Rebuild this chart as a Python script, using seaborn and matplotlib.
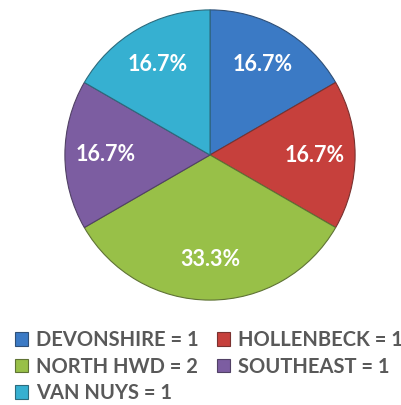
import matplotlib
matplotlib.use("Agg")
import matplotlib.pyplot as plt
from matplotlib.patches import Patch
import seaborn as sns

categories = ["DEVONSHIRE", "HOLLENBECK", "NORTH HWD", "SOUTHEAST", "VAN NUYS"]
counts = [1, 1, 2, 1, 1]
colors = ["#3B7AC5", "#C6403C", "#98C048", "#7C5DA1", "#36B0D1"]

sns.set_style("white")
plt.rcParams["font.family"] = ["Lato", "DejaVu Sans"]

fig = plt.figure(figsize=(4.02, 4.05), dpi=100)
ax = fig.add_axes([62 / 402, (405 - 303) / 405, 296 / 402, 296 / 405])

wedges, texts, autotexts = ax.pie(
    counts,
    colors=sns.color_palette(colors),
    startangle=90,
    counterclock=False,
    radius=1.0,
    autopct="%1.1f%%",
    pctdistance=0.72,
    wedgeprops=dict(linewidth=0.8, edgecolor="#3a3a3a"),
    textprops=dict(color="white", fontsize=15.5, fontweight="bold"),
)
for w, c in zip(wedges, colors):
    w.set_edgecolor(sns.dark_palette(c, 3)[1])
ax.set_xlim(-1.02, 1.02)
ax.set_ylim(-1.02, 1.02)
ax.set_aspect("equal")
ax.axis("off")

handles = [Patch(facecolor=c, edgecolor=sns.dark_palette(c, 3)[1], linewidth=0.8,
                 label=f"{n} = {v}") for n, v, c in zip(categories, counts, colors)]
order = [0, 2, 4, 1, 3]
leg = fig.legend(
    [handles[i] for i in order],
    [handles[i].get_label() for i in order],
    loc="upper left",
    bbox_to_anchor=(15 / 402, 1 - 330 / 405),
    ncol=2,
    frameon=False,
    handlelength=0.65,
    handleheight=0.65,
    handletextpad=0.4,
    columnspacing=0.9,
    labelspacing=0.33,
    borderaxespad=0,
    borderpad=0,
    prop=dict(size=14.5, weight="bold"),
    labelcolor="#595959",
)

fig.savefig("out.png", dpi=100)
